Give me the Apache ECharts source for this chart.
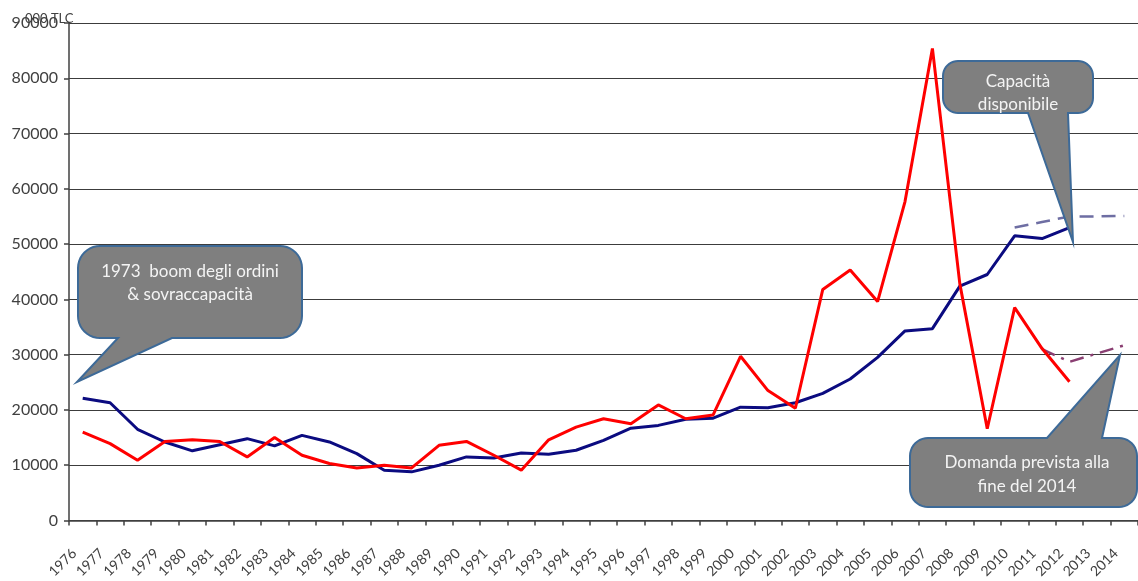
<!DOCTYPE html>
<html>
<head>
<meta charset="utf-8">
<script src="https://cdn.jsdelivr.net/npm/echarts@6/dist/echarts.min.js"></script>
<style>
  html, body { margin: 0; padding: 0; background: #ffffff; }
  #chart { width: 1138px; height: 581px; }
</style>
</head>
<body>
<div id="chart"></div>
<script>
// Years on the category axis
const years = ['1976','1977','1978','1979','1980','1981','1982','1983','1984','1985',
  '1986','1987','1988','1989','1990','1991','1992','1993','1994','1995',
  '1996','1997','1998','1999','2000','2001','2002','2003','2004','2005',
  '2006','2007','2008','2009','2010','2011','2012','2013','2014'];

// Available capacity (000 TLC), 1976-2012
const capacity = [22100, 21300, 16500, 14200, 12600, 13700, 14800, 13500, 15400, 14200,
  12100, 9100, 8800, 10000, 11500, 11300, 12200, 12000, 12700, 14500,
  16700, 17200, 18300, 18500, 20500, 20400, 21300, 23000, 25600, 29500,
  34300, 34700, 42400, 44500, 51500, 51000, 53000, null, null];

// Demand / orders (000 TLC), 1976-2012
const demand = [16000, 13900, 10900, 14300, 14600, 14300, 11500, 15000, 11800, 10300,
  9500, 10000, 9500, 13600, 14300, 11800, 9100, 14600, 16900, 18400,
  17500, 20900, 18400, 19100, 29700, 23500, 20300, 41800, 45300, 39600,
  57700, 85400, 42800, 16600, 38500, 31100, 25100, null, null];

// Projections to the end of 2014
const capacityForecast = [null, null, null, null, null, null, null, null, null, null,
  null, null, null, null, null, null, null, null, null, null,
  null, null, null, null, null, null, null, null, null, null,
  null, null, null, null, 53000, 54000, 55000, 55000, 55100];

const demandForecast = [null, null, null, null, null, null, null, null, null, null,
  null, null, null, null, null, null, null, null, null, null,
  null, null, null, null, null, null, null, null, null, null,
  null, null, null, null, null, 31000, 28700, 30200, 31700];

const yTicks = { min: 0, max: 90000, interval: 10000 };

// Callout texts
const calloutBoom = ['1973  boom degli ordini', '& sovraccapacità'];
const calloutCapacity = ['Capacità', 'disponibile'];
const calloutDemand = ['Domanda prevista alla', 'fine del 2014'];

// Build a rounded-rectangle speech bubble outline with a pointed tail
function bubble(x0, y0, x1, y1, r, tail) {
  const pts = [];
  const arc = (cx, cy, a0, a1) => {
    const n = 10;
    for (let i = 0; i <= n; i++) {
      const a = (a0 + (a1 - a0) * i / n) * Math.PI / 180;
      pts.push([cx + r * Math.cos(a), cy + r * Math.sin(a)]);
    }
  };
  arc(x0 + r, y0 + r, 180, 270);
  if (tail.side === 'top') {
    pts.push([tail.a, y0], tail.tip, [tail.b, y0]);
  }
  arc(x1 - r, y0 + r, 270, 360);
  arc(x1 - r, y1 - r, 0, 90);
  if (tail.side === 'bottom') {
    pts.push([tail.b, y1], tail.tip, [tail.a, y1]);
  }
  arc(x0 + r, y1 - r, 90, 180);
  return pts;
}

const bubbleStyle = { fill: '#7f7f7f', stroke: '#3d6a98', lineWidth: 2 };
const bubbleText = { fill: '#f4f4f4', font: '17px Lato, "Open Sans", sans-serif', align: 'center', verticalAlign: 'middle' };

function callout(points, cx, lines, y0, gap) {
  const els = [{ type: 'polygon', shape: { points }, style: bubbleStyle, z: 100 }];
  lines.forEach((t, i) => {
    els.push({ type: 'text', x: cx, y: y0 + i * gap, style: Object.assign({ text: t }, bubbleText), z: 101 });
  });
  return els;
}

const chart = echarts.init(document.getElementById('chart'), null, { renderer: 'canvas' });

const option = {
  backgroundColor: '#ffffff',
  animation: false,
  title: {
    text: '000 TLC',
    left: 20,
    top: 7,
    textStyle: { fontFamily: 'Lato, sans-serif', fontSize: 13, fontWeight: 'normal', color: '#404040' }
  },
  grid: { left: 69, right: -3, top: 23, bottom: 59, containLabel: false },
  xAxis: {
    type: 'category',
    data: years,
    boundaryGap: true,
    axisLine: { lineStyle: { color: '#404040', width: 1.5 } },
    axisTick: { show: true, interval: 0, length: 5, lineStyle: { color: '#404040', width: 1.5 } },
    axisLabel: {
      interval: 0,
      rotate: 45,
      margin: 22,
      verticalAlign: 'middle',
      padding: [0, 12, 0, 0],
      fontFamily: 'Lato, sans-serif',
      fontSize: 14,
      color: '#404040'
    }
  },
  yAxis: {
    type: 'value',
    min: yTicks.min,
    max: yTicks.max,
    interval: yTicks.interval,
    axisLine: { show: true, lineStyle: { color: '#404040', width: 1.5 } },
    axisTick: { show: true, length: 5, lineStyle: { color: '#404040', width: 1.5 } },
    axisLabel: {
      margin: 11,
      fontFamily: 'Lato, sans-serif',
      fontSize: 16,
      color: '#404040',
      formatter: (v) => String(v)
    },
    splitLine: { show: true, lineStyle: { color: '#3c3c3c', width: 1.2 } }
  },
  series: [
    {
      name: 'Capacità disponibile',
      type: 'line',
      data: capacity,
      symbol: 'none',
      lineStyle: { color: '#0b0b80', width: 3 },
      z: 3
    },
    {
      name: 'Domanda',
      type: 'line',
      data: demand,
      symbol: 'none',
      lineStyle: { color: '#ff0000', width: 3 },
      z: 4
    },
    {
      name: 'Capacità prevista',
      type: 'line',
      data: capacityForecast,
      symbol: 'none',
      lineStyle: { color: '#6e6ea3', width: 2.5, type: [14, 8] },
      z: 2
    },
    {
      name: 'Domanda prevista',
      type: 'line',
      data: demandForecast,
      symbol: 'none',
      lineStyle: { color: '#8a3f72', width: 2.5, type: [14, 7, 3, 7] },
      z: 2
    }
  ],
  graphic: [].concat(
    callout(bubble(78, 246, 302, 338, 22, { side: 'bottom', a: 118, b: 172, tip: [77, 382] }),
      190, calloutBoom, 272, 23),
    callout(bubble(943, 61, 1093, 113, 15, { side: 'bottom', a: 1028, b: 1068, tip: [1073, 242] }),
      1018, calloutCapacity, 82, 23),
    callout(bubble(910, 438, 1137, 507, 18, { side: 'top', a: 1047, b: 1102, tip: [1120, 355] }),
      1027, calloutDemand, 463, 24)
  )
};

chart.setOption(option);
</script>
</body>
</html>
